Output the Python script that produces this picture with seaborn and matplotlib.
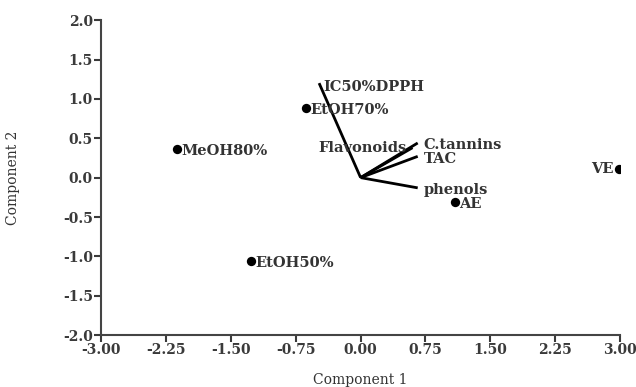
import matplotlib
matplotlib.use("Agg")
import matplotlib.pyplot as plt
import seaborn as sns
import pandas as pd

# Sample scores
samples = ["MeOH80%", "EtOH70%", "EtOH50%", "AE", "VE"]
comp1 = [-2.12, -0.63, -1.27, 1.09, 2.99]
comp2 = [0.36, 0.88, -1.06, -0.31, 0.11]

# Variable loadings (vectors from origin)
variables = ["IC50%DPPH", "Flavonoids", "C.tannins", "TAC", "phenols"]
load1 = [-0.48, 0.60, 0.66, 0.66, 0.66]
load2 = [1.20, 0.38, 0.44, 0.27, -0.13]

xticks = [-3.00, -2.25, -1.50, -0.75, 0.00, 0.75, 1.50, 2.25, 3.00]
yticks = [-2.0, -1.5, -1.0, -0.5, 0.0, 0.5, 1.0, 1.5, 2.0]

sns.set_style("white")
plt.rcParams['font.family'] = ['DejaVu Serif']

fig = plt.figure(figsize=(6.36, 3.87), dpi=100)
ax = fig.add_axes([0.159, 0.134, 0.816, 0.814])

df = pd.DataFrame({"c1": comp1, "c2": comp2, "s": samples})
sns.scatterplot(data=df, x="c1", y="c2", ax=ax, color="black", s=45,
                edgecolor="black", linewidth=0, zorder=3)

for vx, vy in zip(load1, load2):
    ax.plot([0, vx], [0, vy], color="black", lw=2, solid_capstyle="butt")

fs = 10.5
fw = "bold"
tc = "#333333"
for name, x, y in zip(samples, comp1, comp2):
    if name == "VE":
        ax.text(x - 0.07, y, name, ha="right", va="center", fontsize=fs,
                color=tc, fontweight=fw)
    else:
        ax.text(x + 0.05, y - 0.02, name, ha="left", va="center", fontsize=fs,
                color=tc, fontweight=fw)

for name, x, y in zip(variables, load1, load2):
    if name == "Flavonoids":
        ax.text(x - 0.07, y - 0.0, name, ha="right", va="center", fontsize=fs,
                color=tc, fontweight=fw)
    elif name == "IC50%DPPH":
        ax.text(x + 0.05, y - 0.05, name, ha="left", va="center", fontsize=fs,
                color=tc, fontweight=fw)
    else:
        ax.text(x + 0.07, y - 0.03, name, ha="left", va="center", fontsize=fs,
                color=tc, fontweight=fw)

ax.set_xlim(-3.0, 3.0)
ax.set_ylim(-2.0, 2.0)
ax.set_xticks(xticks)
ax.set_xticklabels([f"{t:.2f}" for t in xticks], fontweight=fw)
ax.set_yticks(yticks)
ax.set_yticklabels([f"{t:.1f}" for t in yticks], fontweight=fw)
ax.tick_params(axis="both", which="major", direction="out", length=5, width=1.5,
               labelsize=10, colors="#3a3a3a", bottom=True, left=True, pad=1)
for sp in ["top", "right"]:
    ax.spines[sp].set_visible(False)
for sp in ["left", "bottom"]:
    ax.spines[sp].set_color("#444444")
    ax.spines[sp].set_linewidth(1.5)

ax.set_xlabel("Component 1", fontsize=10, color="#333333", va="center")
ax.set_ylabel("Component 2", fontsize=10, color="#333333", va="center")
ax.xaxis.set_label_coords(0.5, -0.143)
ax.yaxis.set_label_coords(-0.17, 0.5)

fig.savefig("out.png", dpi=100)
